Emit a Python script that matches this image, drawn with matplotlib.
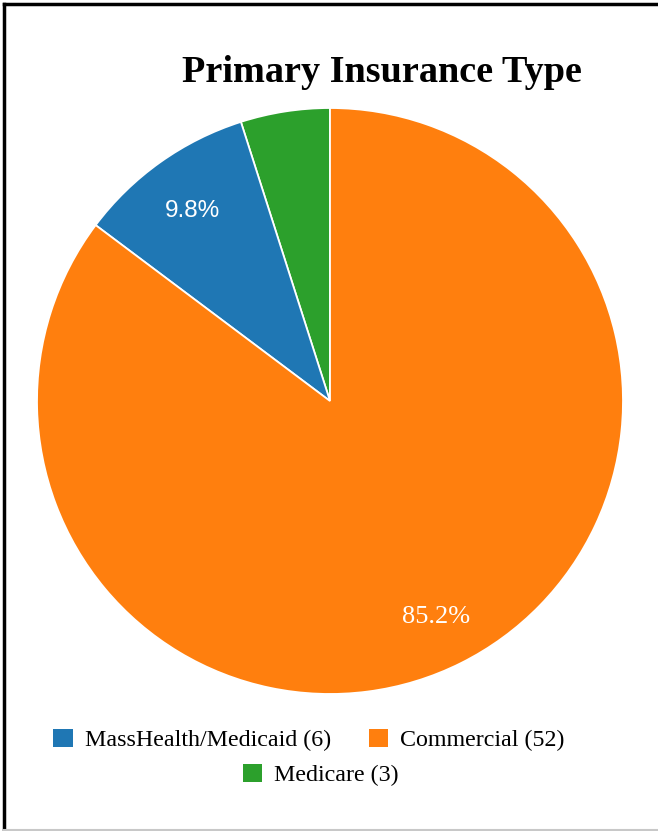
import matplotlib
matplotlib.use("Agg")
import matplotlib.pyplot as plt
from matplotlib.lines import Line2D

# Insurance breakdown (counts)
categories = ["MassHealth/Medicaid", "Commercial", "Medicare"]
counts = [6, 52, 3]
colors = ["#1f77b4", "#ff7f0e", "#2ca02c"]
title = "Primary Insurance Type"

W, H = 658, 831
fig = plt.figure(figsize=(W / 100, H / 100), dpi=100)
fig.patch.set_facecolor("white")

# pie axes placed in pixel terms
cx, cy, r = 330, 401, 293
ax = fig.add_axes([(cx - r) / W, (H - cy - r) / H, 2 * r / W, 2 * r / H])
ax.set_aspect("equal")
ax.axis("off")

# wedges go counter-clockwise from 12 o'clock: Medicare, MassHealth, Commercial
order = [2, 0, 1]


def pct_label(p):
    return f"{p:.1f}%" if p >= 5 else ""


wedges, texts, autotexts = ax.pie(
    [counts[i] for i in order],
    colors=[colors[i] for i in order],
    startangle=90,
    counterclock=True,
    radius=1.0,
    autopct=pct_label,
    pctdistance=0.81,
    wedgeprops=dict(edgecolor="white", linewidth=1.3),
    textprops=dict(color="white"),
)
ax.set_xlim(-1, 1)
ax.set_ylim(-1, 1)

for t, idx in zip(autotexts, order):
    if categories[idx] == "Commercial":
        t.set_fontfamily("Liberation Serif")
        t.set_fontsize(19)
    else:
        t.set_fontfamily("Liberation Sans")
        t.set_fontsize(17.5)
    x, y = t.get_position()
    t.set_position((x, y - 0.012))

fig.text(381.5 / W, 1 - 72 / H, title, ha="center", va="center",
         fontsize=27.5, fontweight="bold", family="Liberation Serif")

# legend: two entries on the first row, one centred below
handle_of = {order[k]: wedges[k] for k in range(len(order))}
labels = [f"{c} ({n})" for c, n in zip(categories, counts)]
legend_kw = dict(frameon=False, handlelength=0.8, handleheight=0.8,
                 handletextpad=0.5, columnspacing=1.6, borderpad=0,
                 prop=dict(family="Liberation Serif", size=17.3))
leg1 = fig.legend([handle_of[0], handle_of[1]], labels[:2], ncol=2,
                  loc="center", bbox_to_anchor=(309 / W, 1 - 740 / H), **legend_kw)
leg2 = fig.legend([handle_of[2]], labels[2:], ncol=1,
                  loc="center", bbox_to_anchor=(320.5 / W, 1 - 775 / H), **legend_kw)
for leg in (leg1, leg2):
    for h in leg.legend_handles:
        h.set_edgecolor("none")

# page frame
fig.add_artist(Line2D([4 / W, 4 / W], [0, 1 - 4 / H], color="black", lw=2.5,
                      transform=fig.transFigure))
fig.add_artist(Line2D([4 / W, 1], [1 - 4 / H, 1 - 4 / H], color="black", lw=2.5,
                      transform=fig.transFigure))
fig.add_artist(Line2D([4 / W, 1], [1 - 829.5 / H, 1 - 829.5 / H], color="#c8c8c8",
                      lw=1.5, transform=fig.transFigure))

fig.savefig("out.png", dpi=100, facecolor="white")
